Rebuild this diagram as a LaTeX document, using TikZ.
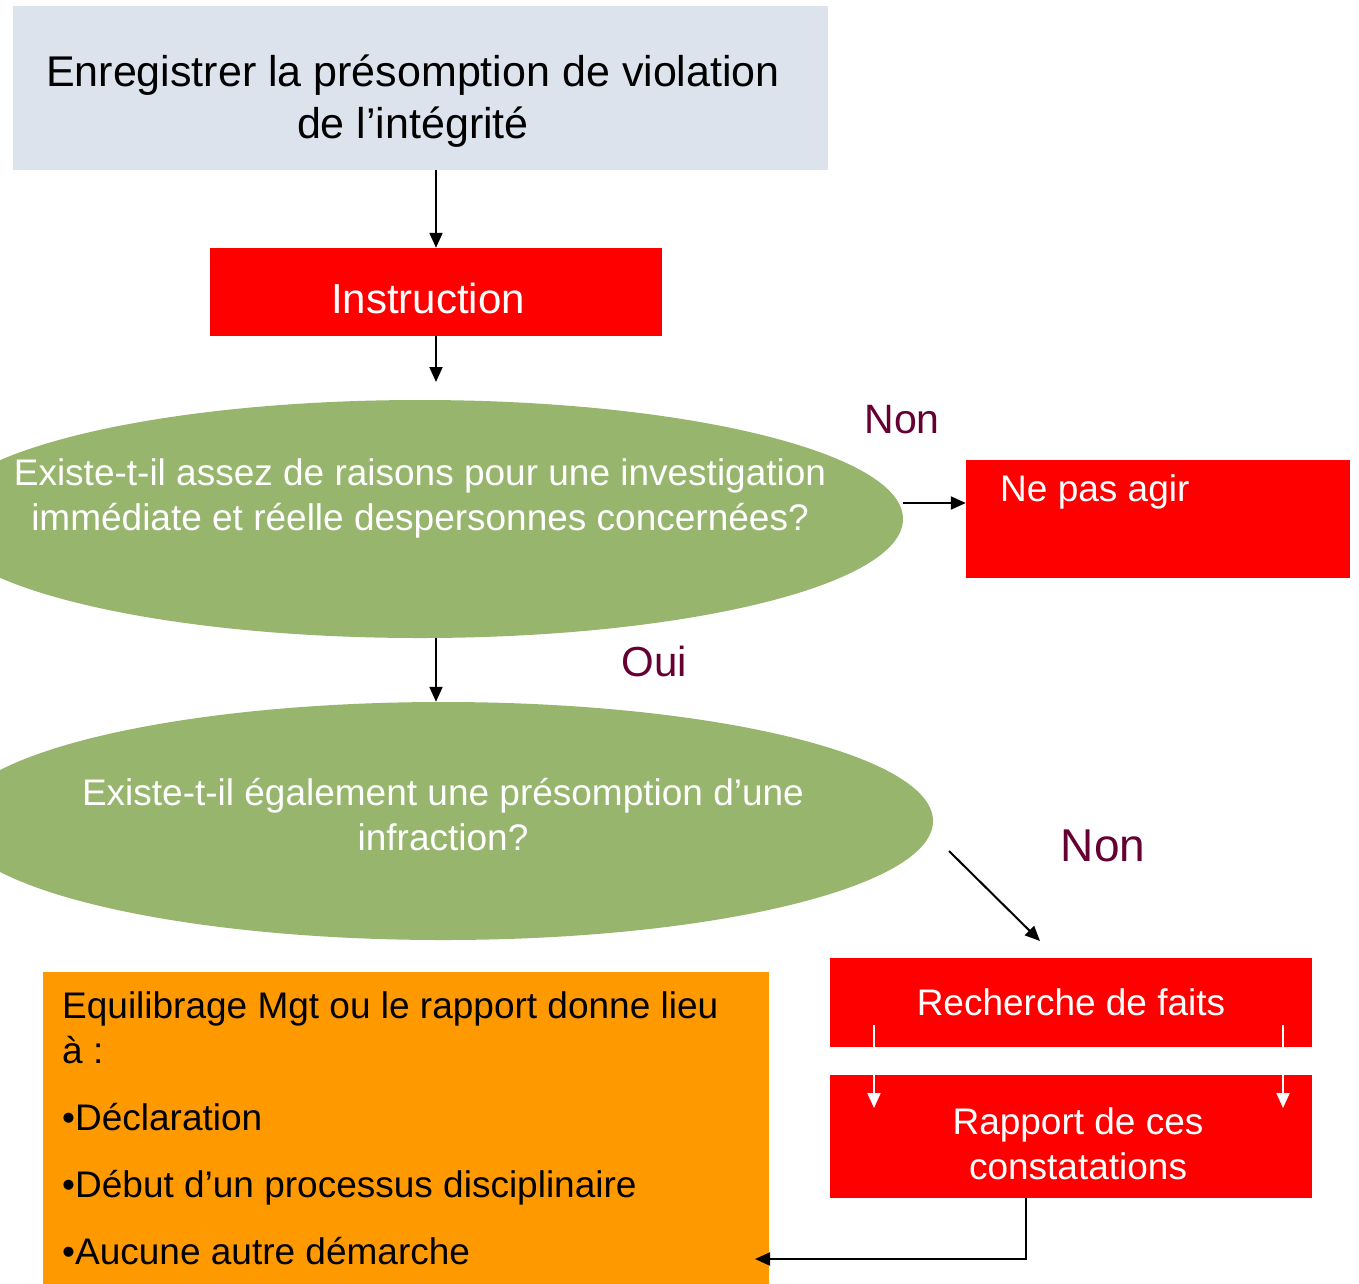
\documentclass[tikz,border=0pt]{standalone}
\usepackage{fontspec}
\setmainfont{Liberation Sans}
\usetikzlibrary{shapes.geometric}
\usetikzlibrary{arrows.meta}
\definecolor{boxgray}{RGB}{220,227,236}
\definecolor{ellgreen}{RGB}{151,181,109}
\definecolor{nonpurple}{RGB}{102,0,51}
\definecolor{orangebox}{RGB}{255,153,0}

\begin{document}
\begin{tikzpicture}[x=1pt,y=-1pt,
    flow/.style={-{Triangle[length=15pt,width=13pt]}, line width=2pt, black},
    whiteflow/.style={flow, white},
    redbox/.style={rectangle, fill=red, text=white, inner sep=0pt, align=center, font=\fontsize{37}{45}\selectfont},
    redtext/.style={text=white, inner sep=0pt, align=center, font=\fontsize{37}{45}\selectfont},
    question/.style={ellipse, fill=ellgreen, inner sep=0pt},
    qtext/.style={text=white, align=center, font=\fontsize{37}{45}\selectfont},
    answer/.style={text=nonpurple}]
            \clip (0,0) rectangle (1359,1283);
            \fill[white] (0,0) rectangle (1359,1283);
            % boxes
            \node[fill=boxgray, minimum width=815pt, minimum height=164pt, inner sep=0pt] (A) at (420.5,88){};
            \node[align=center, font=\fontsize{43}{52}\selectfont] (A1) at (413,101){Enregistrer la présomption de violation\\de l’intégrité};
            \node[redbox, minimum width=452pt, minimum height=88pt] (B) at (436,292){};
            \node[redtext, font=\fontsize{42}{52}\selectfont] (B1) at (428,298){Instruction};
            \node[question, minimum width=966pt, minimum height=238pt] (C) at (420,519){};
            \node[qtext] (C1) at (420,498){Existe-t-il assez de raisons pour une investigation\\immédiate et réelle despersonnes concernées?};
            \node[question, minimum width=980pt, minimum height=238pt] (D) at (443,821){};
            \node[qtext] (D1) at (443,815){Existe-t-il également une présomption d’une\\infraction?};
            \node[redbox, minimum width=384pt, minimum height=118pt] (E) at (1158,519){};
            \node[redtext, anchor=west] (E1) at (1000,492){Ne pas agir};
            \node[redbox, minimum width=482pt, minimum height=89pt] (F) at (1071,1002.5){Recherche de faits};
            \node[redbox, minimum width=482pt, minimum height=123pt] (G) at (1071,1136.5){};
            \node[redtext] (G1) at (1078,1144){Rapport de ces\\constatations};
            \node[fill=orangebox, minimum width=726pt, minimum height=330pt, inner sep=0pt] (H) at (406,1137){};
            % orange text
            \node[anchor=base west, inner sep=0pt, font=\fontsize{37}{45}\selectfont] (H1) at (62,1018){Equilibrage Mgt ou le rapport donne lieu};
            \node[anchor=base west, inner sep=0pt, font=\fontsize{37}{45}\selectfont] (H2) at (62,1063){à :};
            \node[anchor=base west, inner sep=0pt, font=\fontsize{37}{45}\selectfont] (H3) at (62,1130){•Déclaration};
            \node[anchor=base west, inner sep=0pt, font=\fontsize{37}{45}\selectfont] (H4) at (62,1197){•Début d’un processus disciplinaire};
            \node[anchor=base west, inner sep=0pt, font=\fontsize{37}{45}\selectfont] (H5) at (62,1264){•Aucune autre démarche};
            % answers
            \node[answer, font=\fontsize{41}{50}\selectfont] (N1) at (902,420){Non};
            \node[answer, font=\fontsize{42}{50}\selectfont] (O1) at (654,661){Oui};
            \node[answer, font=\fontsize{46}{55}\selectfont] (N2) at (1103,846){Non};
            % arrow ends
            \coordinate (c1) at (436,382);
            \coordinate (c3) at (903,503);
            \coordinate (c4) at (949,851);
            \coordinate (c5) at (1040,941);
            \coordinate (c6) at (874,1025);
            \coordinate (c7) at (1283,1025);
            \coordinate (c8) at (1026,1259);
            \coordinate (c9) at (755,1259);
            \draw[flow] (A.south -| B.north) -- (B.north);
            \draw[flow] (B.south) -- (c1);
            \draw[flow] (C.south -| B.south) -- (D.north -| B.south);
            \draw[flow] (c3) -- (c3 -| E.west);
            \draw[flow] (c4) -- (c5);
            \draw[whiteflow] (c6) -- (c6 |- 0,1108);
            \draw[whiteflow] (c7) -- (c7 |- 0,1108);
            \draw[flow] (G.south -| c8) -- (c8) -- (c9);
\end{tikzpicture}
\end{document}
